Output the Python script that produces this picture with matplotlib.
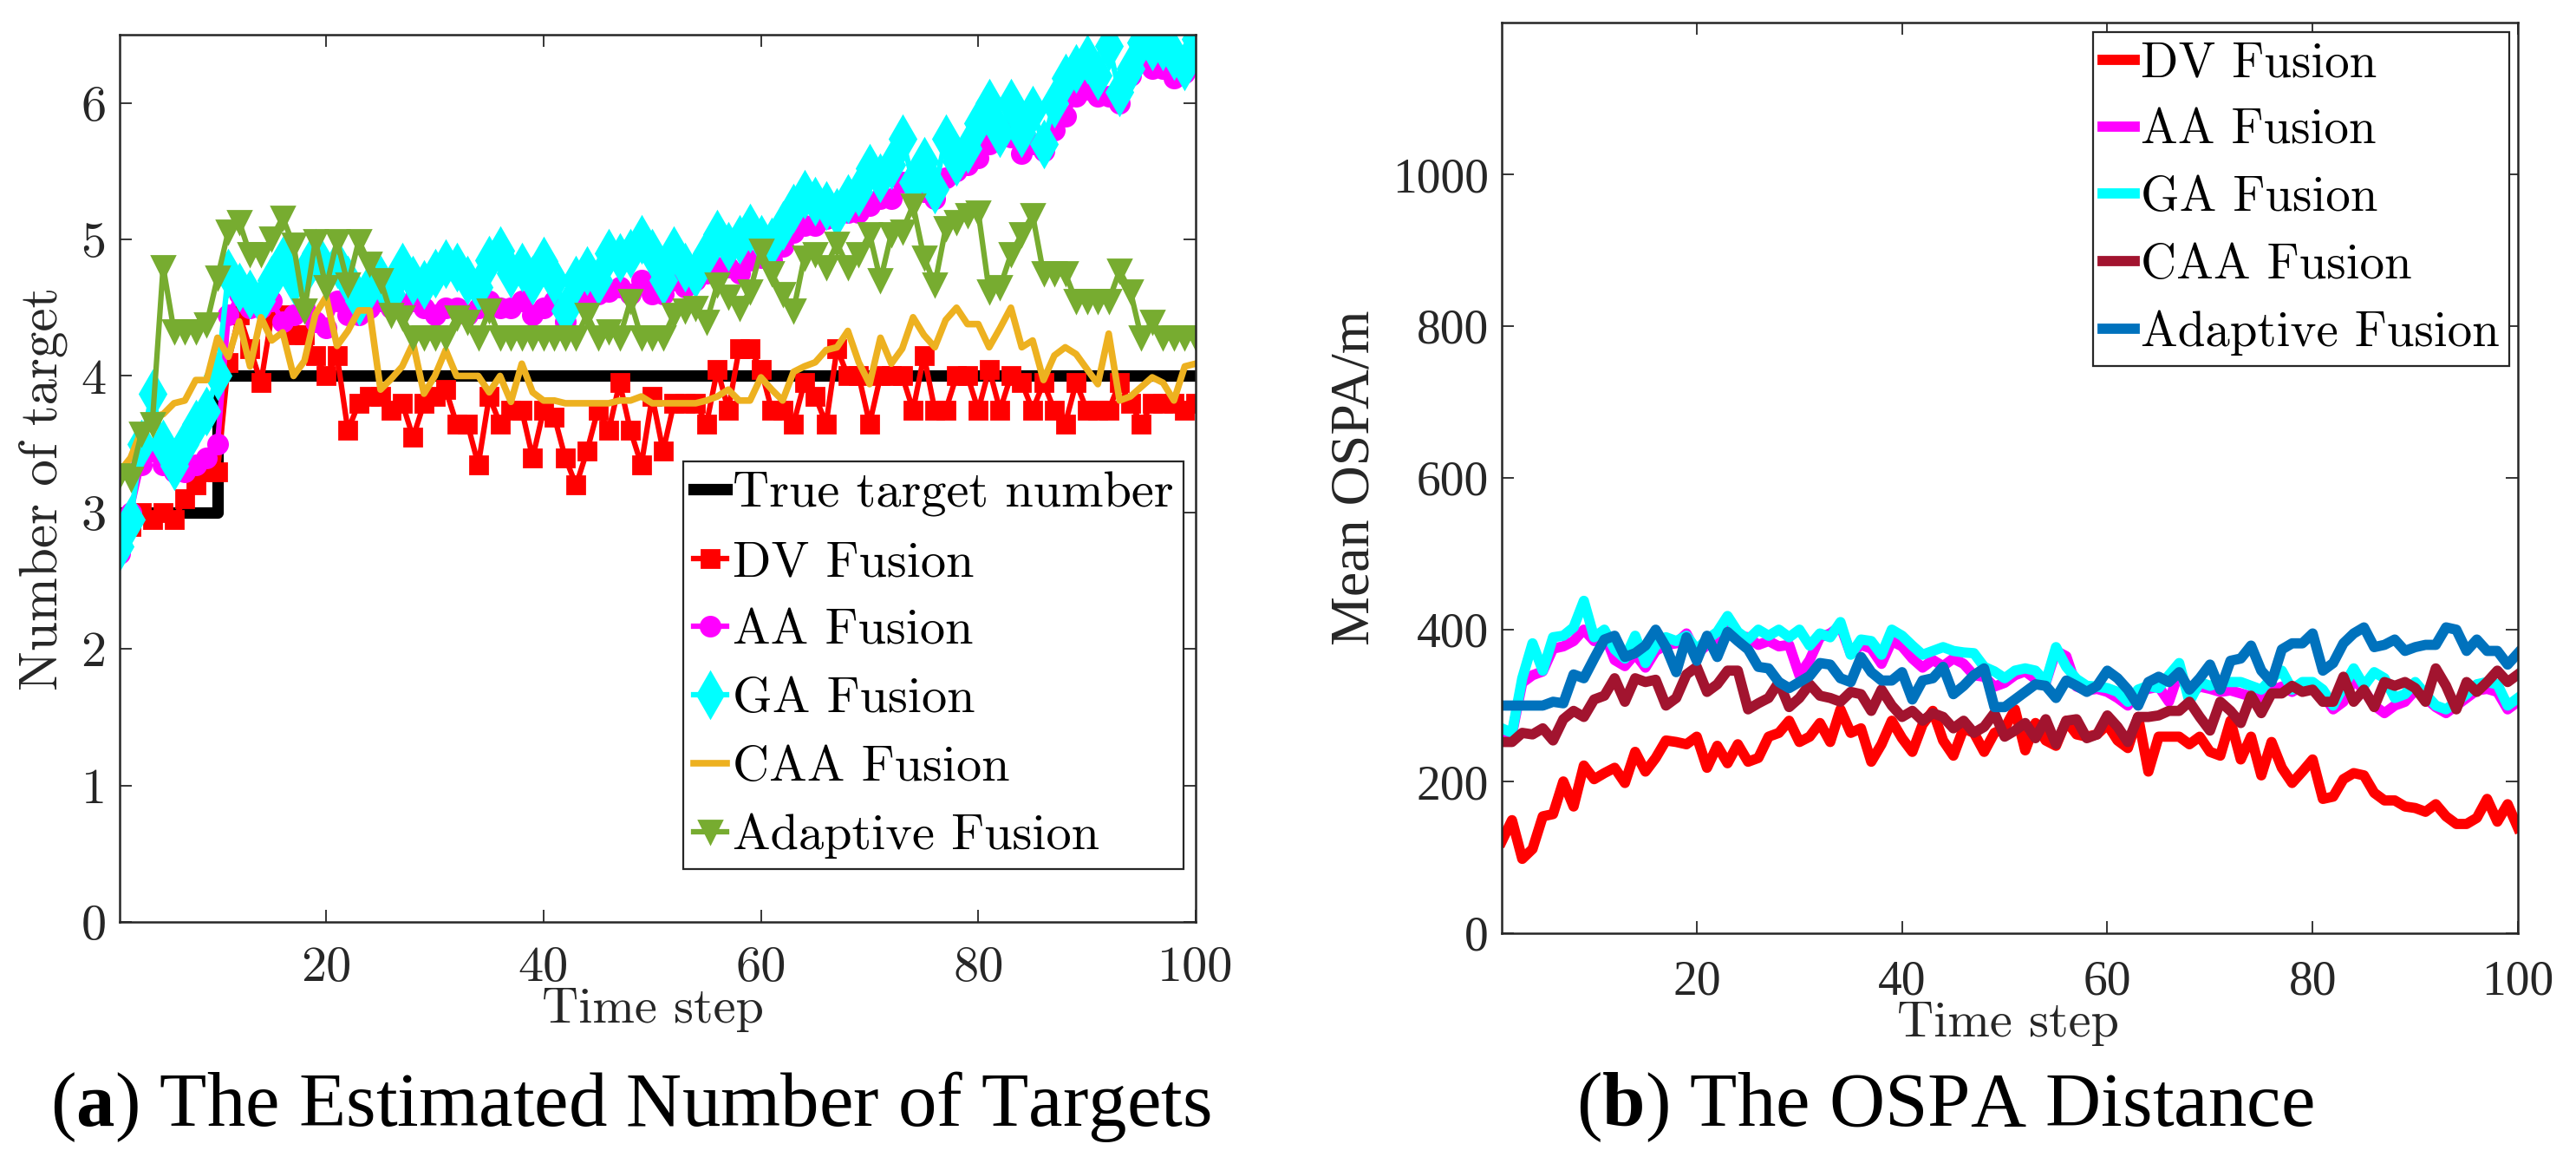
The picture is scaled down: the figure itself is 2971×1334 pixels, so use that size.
import numpy as np
import matplotlib

matplotlib.use("Agg")
import matplotlib.pyplot as plt

plt.rcParams["axes.formatter.use_mathtext"] = True
plt.rcParams["mathtext.fontset"] = "custom"
plt.rcParams["mathtext.rm"] = "Liberation Serif"
plt.rcParams["mathtext.bf"] = "Liberation Serif:bold"

# ---------------- data ----------------
steps = np.arange(1, 101)

true_num = [3] * 9 + [4] * 91

dv_num = [2.85, 2.9, 3.0, 2.95, 3.0, 2.95, 3.1, 3.2, 3.3, 3.3,
          4.1, 4.45, 4.2, 3.95, 4.45, 4.45, 4.3, 4.3, 4.15, 4.0,
          4.15, 3.6, 3.8, 3.85, 3.85, 3.75, 3.8, 3.55, 3.8, 3.85,
          3.9, 3.65, 3.65, 3.35, 3.85, 3.65, 3.75, 3.75, 3.4, 3.75,
          3.7, 3.4, 3.2, 3.45, 3.75, 3.6, 3.95, 3.6, 3.35, 3.85,
          3.45, 3.8, 3.8, 3.8, 3.65, 4.05, 3.75, 4.2, 4.2, 4.05,
          3.75, 3.75, 3.65, 3.95, 3.85, 3.65, 4.2, 4.0, 4.0, 3.65,
          4.0, 4.0, 4.0, 3.75, 4.15, 3.75, 3.75, 4.0, 4.0, 3.75,
          4.05, 3.75, 4.0, 3.95, 3.75, 3.95, 3.75, 3.65, 3.95, 3.75,
          3.75, 3.75, 3.95, 3.8, 3.65, 3.8, 3.8, 3.8, 3.75, 3.8]

aa_num = [2.7, 3.0, 3.35, 3.45, 3.35, 3.3, 3.3, 3.35, 3.4, 3.5,
          4.45, 4.6, 4.5, 4.5, 4.55, 4.4, 4.45, 4.5, 4.4, 4.35,
          4.55, 4.45, 4.45, 4.5, 4.55, 4.5, 4.5, 4.55, 4.5, 4.45,
          4.5, 4.5, 4.45, 4.5, 4.55, 4.5, 4.5, 4.55, 4.45, 4.5,
          4.55, 4.4, 4.55, 4.55, 4.6, 4.62, 4.65, 4.6, 4.7, 4.6,
          4.6, 4.7, 4.65, 4.7, 4.75, 4.8, 4.8, 4.75, 4.85, 4.87,
          4.85, 4.95, 5.05, 5.1, 5.1, 5.15, 5.2, 5.2, 5.2, 5.25,
          5.3, 5.3, 5.42, 5.4, 5.35, 5.3, 5.45, 5.5, 5.55, 5.6,
          5.7, 5.83, 5.75, 5.63, 5.7, 5.65, 5.8, 5.9, 6.05, 6.1,
          6.05, 6.05, 6.0, 6.2, 6.3, 6.25, 6.25, 6.18, 6.22, 6.33]

ga_num = [2.75, 2.95, 3.5, 3.87, 3.5, 3.34, 3.5, 3.65, 3.74, 4.0,
          4.75, 4.65, 4.6, 4.55, 4.7, 4.84, 4.7, 4.75, 4.9, 4.75,
          4.82, 4.7, 4.55, 4.65, 4.7, 4.6, 4.8, 4.7, 4.67, 4.75,
          4.82, 4.8, 4.7, 4.65, 4.85, 4.92, 4.75, 4.8, 4.7, 4.84,
          4.7, 4.48, 4.7, 4.77, 4.7, 4.9, 4.87, 4.9, 5.0, 4.9,
          4.7, 4.92, 4.8, 4.75, 4.9, 5.04, 4.95, 5.0, 5.08, 5.0,
          4.98, 5.1, 5.23, 5.33, 5.28, 5.25, 5.2, 5.3, 5.35, 5.52,
          5.45, 5.55, 5.74, 5.42, 5.57, 5.37, 5.74, 5.57, 5.67, 5.85,
          6.0, 5.78, 6.0, 5.78, 5.95, 5.7, 6.0, 6.18, 6.25, 6.32,
          6.2, 6.42, 6.08, 6.25, 6.44, 6.42, 6.42, 6.35, 6.27, 6.47]

caa_num = [3.3, 3.4, 3.6, 3.7, 3.72, 3.8, 3.82, 3.97, 3.97, 4.28,
           4.14, 4.4, 4.07, 4.43, 4.26, 4.32, 4.0, 4.11, 4.45, 4.58,
           4.22, 4.33, 4.48, 4.48, 3.9, 3.98, 4.07, 4.24, 3.87, 4.0,
           4.19, 4.0, 4.0, 4.0, 3.88, 4.0, 3.81, 4.09, 3.88, 3.82,
           3.82, 3.8, 3.8, 3.8, 3.8, 3.8, 3.82, 3.82, 3.85, 3.8,
           3.8, 3.8, 3.8, 3.8, 3.82, 3.85, 3.9, 3.82, 3.82, 3.99,
           3.9, 3.82, 4.03, 4.07, 4.1, 4.19, 4.21, 4.33, 4.1, 3.94,
           4.28, 4.09, 4.2, 4.43, 4.3, 4.21, 4.41, 4.5, 4.38, 4.38,
           4.21, 4.35, 4.5, 4.21, 4.26, 3.97, 4.15, 4.21, 4.16, 4.05,
           3.94, 4.31, 3.82, 3.85, 3.92, 3.99, 3.95, 3.82, 4.07, 4.09]

ada_num = [3.27, 3.25, 3.58, 3.65, 4.8, 4.33, 4.33, 4.33, 4.38, 4.72,
           5.06, 5.13, 4.89, 4.89, 5.01, 5.16, 4.96, 4.48, 4.99, 4.65,
           4.99, 4.67, 4.99, 4.82, 4.7, 4.45, 4.43, 4.28, 4.28, 4.28,
           4.28, 4.43, 4.4, 4.28, 4.48, 4.28, 4.28, 4.28, 4.28, 4.28,
           4.28, 4.28, 4.28, 4.45, 4.28, 4.33, 4.28, 4.55, 4.28, 4.28,
           4.28, 4.45, 4.48, 4.5, 4.4, 4.67, 4.58, 4.5, 4.62, 4.92,
           4.75, 4.6, 4.48, 4.87, 4.89, 4.8, 4.97, 4.8, 4.89, 5.04,
           4.7, 5.04, 5.06, 5.25, 4.87, 4.67, 5.08, 5.13, 5.18, 5.2,
           4.62, 4.65, 4.89, 5.04, 5.18, 4.75, 4.75, 4.75, 4.55, 4.55,
           4.55, 4.55, 4.77, 4.62, 4.28, 4.4, 4.28, 4.28, 4.28, 4.28]

dv_ospa = [121, 149, 98, 111, 154, 157, 200, 167, 221, 203,
           211, 218, 198, 239, 213, 231, 254, 252, 249, 259,
           218, 247, 224, 249, 226, 231, 259, 264, 280, 252,
           259, 277, 252, 295, 264, 270, 226, 249, 280, 257,
           239, 275, 293, 254, 234, 270, 264, 239, 264, 270,
           295, 241, 277, 254, 247, 280, 262, 259, 262, 275,
           254, 244, 285, 213, 259, 259, 259, 249, 259, 239,
           234, 280, 229, 259, 208, 252, 218, 198, 213, 229,
           177, 180, 203, 211, 208, 185, 175, 175, 167, 165,
           160, 170, 154, 144, 144, 152, 177, 147, 170, 139]

aa_ospa = [265, 262, 330, 340, 345, 375, 378, 385, 400, 385,
           395, 360, 352, 368, 350, 372, 380, 382, 395, 368,
           380, 385, 405, 392, 390, 380, 385, 378, 380, 340,
           360, 390, 395, 405, 368, 380, 375, 355, 385, 378,
           362, 350, 360, 352, 362, 355, 340, 338, 325, 330,
           340, 345, 335, 330, 372, 365, 325, 320, 322, 318,
           310, 300, 318, 322, 325, 305, 345, 315, 325, 322,
           318, 320, 316, 312, 310, 320, 325, 318, 326, 325,
           315, 295, 305, 335, 320, 300, 290, 300, 305, 320,
           310, 298, 290, 300, 310, 320, 322, 318, 295, 305]

ga_ospa = [270, 264, 336, 382, 346, 390, 392, 403, 438, 390,
           400, 374, 362, 392, 356, 379, 390, 385, 392, 374,
           387, 397, 418, 397, 387, 400, 392, 400, 390, 400,
           379, 395, 390, 410, 367, 387, 385, 367, 400, 392,
           379, 367, 372, 377, 372, 370, 369, 351, 345, 336,
           346, 349, 346, 331, 377, 351, 335, 326, 325, 323,
           318, 305, 321, 326, 323, 340, 356, 305, 331, 326,
           331, 331, 331, 326, 321, 336, 346, 321, 331, 331,
           321, 300, 325, 349, 326, 344, 336, 310, 315, 331,
           315, 300, 295, 305, 315, 328, 331, 328, 300, 310]

caa_ospa = [252, 252, 264, 262, 270, 254, 282, 293, 285, 308,
            313, 336, 305, 336, 331, 334, 300, 310, 341, 351,
            318, 328, 346, 346, 295, 303, 310, 331, 298, 310,
            328, 313, 310, 305, 318, 315, 293, 321, 300, 285,
            293, 280, 290, 285, 270, 280, 264, 272, 290, 259,
            267, 277, 257, 282, 249, 280, 282, 257, 262, 287,
            272, 252, 285, 285, 287, 293, 293, 305, 285, 267,
            305, 293, 277, 313, 290, 316, 316, 326, 318, 321,
            305, 305, 338, 305, 321, 298, 331, 326, 331, 323,
            305, 349, 326, 295, 331, 318, 331, 346, 331, 341]

ada_ospa = [300, 300, 300, 300, 300, 305, 303, 341, 336, 362,
            387, 392, 364, 369, 379, 400, 377, 344, 390, 359,
            392, 364, 397, 385, 374, 351, 349, 331, 323, 331,
            339, 356, 354, 336, 331, 364, 344, 333, 333, 344,
            308, 333, 336, 351, 315, 326, 340, 349, 298, 298,
            308, 318, 328, 326, 310, 333, 326, 318, 326, 346,
            336, 321, 300, 331, 338, 331, 344, 321, 336, 354,
            321, 359, 362, 379, 346, 331, 374, 382, 382, 395,
            346, 356, 382, 395, 403, 377, 380, 387, 372, 377,
            380, 380, 403, 400, 372, 387, 372, 372, 354, 369]

x_ticks = [20, 40, 60, 80, 100]
num_ticks = [0, 1, 2, 3, 4, 5, 6]
ospa_ticks = [0, 200, 400, 600, 800, 1000]

# MATLAB default colours
ORANGE = (0.929, 0.694, 0.125)
GREEN = (0.466, 0.674, 0.188)
DARKRED = (0.635, 0.078, 0.184)
BLUE = (0.0, 0.447, 0.741)
AXC = "#262626"

W, H = 2971, 1334
fig = plt.figure(figsize=(W / 100, H / 100), dpi=100)


def style_axes(ax):
    for sp in ax.spines.values():
        sp.set_color(AXC)
        sp.set_linewidth(1.8)
    ax.tick_params(which="both", direction="in", top=True, right=True,
                   length=10, width=1.3, color=AXC)


# ---------------- (a) number of targets ----------------
ax1 = fig.add_axes([138 / W, (H - 1063) / H, 1241 / W, (1063 - 40) / H])
style_axes(ax1)
ax1.plot(steps, true_num, color="k", lw=9.5, drawstyle="steps-post",
         label="True target number")
ax1.plot(steps, dv_num, color="red", lw=4.5, marker="s", ms=15, mew=2,
         label="DV Fusion")
ax1.plot(steps, aa_num, color="magenta", lw=4.5, marker="o", ms=16, mew=2,
         label="AA Fusion")
ax1.plot(steps, ga_num, color="cyan", lw=4.5, marker="d", ms=26, mew=2,
         label="GA Fusion")
ax1.plot(steps, caa_num, color=ORANGE, lw=5.5, label="CAA Fusion")
ax1.plot(steps, ada_num, color=GREEN, lw=4.5, marker="v", ms=19, mew=2,
         label="Adaptive Fusion")
ax1.set_xlim(1, 100)
ax1.set_ylim(0, 6.5)
ax1.set_xticks(x_ticks)
ax1.set_yticks(num_ticks)
ax1.set_xticklabels([str(t) for t in x_ticks], family="cmr10", fontsize=42, color=AXC)
ax1.set_yticklabels([str(t) for t in num_ticks], family="cmr10", fontsize=42, color=AXC)
ax1.tick_params(axis="x", pad=20)
ax1.tick_params(axis="y", pad=11)
ax1.set_xlabel("Time step", family="cmr10", fontsize=42, color=AXC)
ax1.xaxis.label.set_verticalalignment("center")
ax1.xaxis.set_label_coords(0.4956, -0.099)
ax1.set_ylabel("Number of target", family="cmr10", fontsize=44, color=AXC)
ax1.yaxis.label.set_verticalalignment("center")
ax1.yaxis.set_label_coords(-0.071, 0.488)
leg1 = ax1.legend(loc="lower right", bbox_to_anchor=(0.9887, 0.0597),
                  borderaxespad=0, prop={"family": "cmr10", "size": 42},
                  handlelength=0.65, handletextpad=0.12, borderpad=0.2,
                  labelspacing=0.46, fancybox=False, framealpha=1)
leg1.get_frame().set_edgecolor(AXC)
leg1.get_frame().set_linewidth(1.6)

# ---------------- (b) OSPA distance ----------------
ax2 = fig.add_axes([1732 / W, (H - 1076) / H, 1172 / W, (1076 - 26) / H])
style_axes(ax2)
ax2.plot(steps, dv_ospa, color="red", lw=8.5, label="DV Fusion")
ax2.plot(steps, aa_ospa, color="magenta", lw=8.5, label="AA Fusion")
ax2.plot(steps, ga_ospa, color="cyan", lw=8.5, label="GA Fusion")
ax2.plot(steps, caa_ospa, color=DARKRED, lw=8.5, label="CAA Fusion")
ax2.plot(steps, ada_ospa, color=BLUE, lw=8.5, label="Adaptive Fusion")
ax2.set_xlim(1, 100)
ax2.set_ylim(0, 1200)
ax2.set_xticks(x_ticks)
ax2.set_yticks(ospa_ticks)
ax2.set_xticklabels([str(t) for t in x_ticks], family="Liberation Serif", fontsize=40, color=AXC)
ax2.set_yticklabels([str(t) for t in ospa_ticks], family="Liberation Serif", fontsize=40, color=AXC)
ax2.tick_params(axis="x", pad=22)
ax2.tick_params(axis="y", pad=11)
ax2.set_xlabel("Time step", family="cmr10", fontsize=42, color=AXC)
ax2.xaxis.label.set_verticalalignment("center")
ax2.xaxis.set_label_coords(0.498, -0.099)
ax2.set_ylabel("Mean OSPA/m", family="Liberation Serif", fontsize=46, color=AXC)
ax2.yaxis.label.set_verticalalignment("center")
ax2.yaxis.set_label_coords(-0.144, 0.5)
leg2 = ax2.legend(loc="upper right", bbox_to_anchor=(0.9915, 0.9895),
                  borderaxespad=0, prop={"family": "cmr10", "size": 41},
                  handlelength=0.65, handletextpad=0.12, borderpad=0.2,
                  labelspacing=0.46, fancybox=False, framealpha=1)
leg2.get_frame().set_edgecolor(AXC)
leg2.get_frame().set_linewidth(1.6)

# ---------------- captions ----------------
fig.text(727 / W, 0.027, r"($\mathbf{a}$) The Estimated Number of Targets",
         ha="center", va="baseline", family="Liberation Serif", fontsize=64)
fig.text(2243 / W, 0.027, r"($\mathbf{b}$) The OSPA Distance",
         ha="center", va="baseline", family="Liberation Serif", fontsize=64)

fig.savefig("out.png", dpi=100)
plt.close(fig)
